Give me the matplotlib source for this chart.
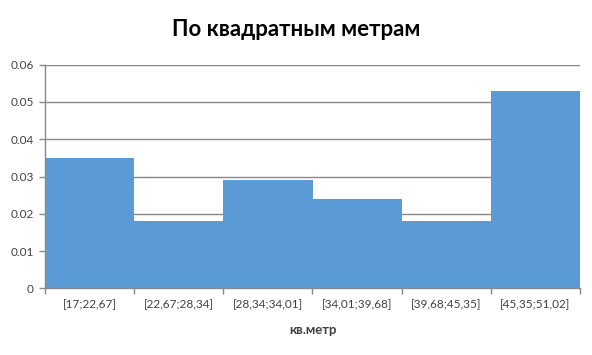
import matplotlib
matplotlib.use("Agg")
import matplotlib.pyplot as plt
import numpy as np

categories = ["[17;22,67]", "[22,67;28,34]", "[28,34;34,01]", "[34,01;39,68]", "[39,68;45,35]", "[45,35;51,02]"]
values = [0.035, 0.018, 0.029, 0.024, 0.018, 0.053]
yticks = [0, 0.01, 0.02, 0.03, 0.04, 0.05, 0.06]
ytick_labels = ["0", "0.01", "0.02", "0.03", "0.04", "0.05", "0.06"]

plt.rcParams['font.family'] = ['Lato', 'DejaVu Sans']

fig = plt.figure(figsize=(5.92, 3.55), dpi=100)
ax = fig.add_axes([45/592, 1 - 288.3/355, (580-45)/592, (288.3-64.7)/355])

x = np.arange(len(categories))
ax.bar(x, values, width=1.0, color="#5B9BD5", zorder=3)
ax.set_xlim(-0.5, len(categories) - 0.5)
ax.set_ylim(0, 0.06)
ax.set_yticks(yticks)
ax.set_yticklabels(ytick_labels, fontsize=8.5, color="#404040")
ax.set_xticks(x)
ax.set_xticklabels(categories, fontsize=8.5, color="#404040")
ax.set_xticks(np.arange(-0.5, len(categories)), minor=True)
ax.tick_params(axis='x', which='major', length=0, pad=8)
ax.tick_params(axis='x', which='minor', length=4, color="#888888", width=1)
ax.tick_params(axis='y', length=4, color="#888888", width=1, pad=4)
ax.grid(axis='y', color="#888888", linewidth=1, zorder=0)
for s in ['top', 'right']:
    ax.spines[s].set_visible(False)
for s in ['left', 'bottom']:
    ax.spines[s].set_color("#888888")
    ax.spines[s].set_linewidth(1)
    ax.spines[s].set_zorder(4)

ax.set_xlabel("кв.метр", fontsize=9.5, fontweight='bold', color="#404040", labelpad=10)
fig.text(0.5, 1 - 30/355, "По квадратным метрам", ha='center', va='center', fontsize=16, fontweight='bold', color="#000000")

fig.savefig("out.png", dpi=100)
